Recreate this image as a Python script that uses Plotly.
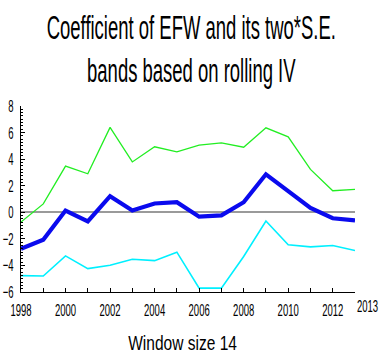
import json
import plotly.graph_objects as go

years = list(range(1998, 2014))
coef_efw = [-2.75, -2.07, 0.13, -0.68, 1.21, 0.13, 0.66, 0.76, -0.33, -0.23,
            0.76, 2.86, 1.59, 0.33, -0.45, -0.61]
upper_band = [-0.73, 0.63, 3.48, 2.90, 6.39, 3.79, 4.93, 4.55, 5.05, 5.23,
              4.90, 6.36, 5.68, 3.23, 1.62, 1.72]
lower_band = [-4.77, -4.80, -3.28, -4.24, -3.99, -3.54, -3.64, -3.00, -5.71, -5.71,
              -3.33, -0.66, -2.45, -2.60, -2.50, -2.88]

y_ticks = [-6, -4, -2, 0, 2, 4, 6, 8]
x_tick_labels = [str(y) if y % 2 == 0 and y != 2013 else "" for y in years]

FONT = "Liberation Sans, Arial, sans-serif"

fig = go.Figure()
fig.add_trace(go.Scatter(x=years, y=upper_band, mode="lines",
                         line=dict(color="#22ee22", width=1.3), showlegend=False))
fig.add_trace(go.Scatter(x=years, y=lower_band, mode="lines",
                         line=dict(color="#00f0ff", width=1.6), showlegend=False))
fig.add_trace(go.Scatter(x=years, y=coef_efw, mode="lines",
                         line=dict(color="#0a0aee", width=4.2), showlegend=False))

W, H = 380, 356
L, R, T, B = 21, 25, 106, 64
ph = H - T - B


def py(pix):
    """Paper y coordinate for a pixel row measured from the top."""
    return 1 + (T - pix) / ph


fig.update_layout(
    width=W, height=H,
    margin=dict(l=L, r=R, t=T, b=B, pad=0, autoexpand=False),
    paper_bgcolor="white", plot_bgcolor="white",
    font=dict(family=FONT, color="black"),
    xaxis=dict(range=[1998, 2013], tickvals=years, ticktext=x_tick_labels,
               ticks="inside", ticklen=4, tickcolor="black", tickwidth=1,
               showline=True, linecolor="black", linewidth=1.2,
               showgrid=False, zeroline=False, automargin=False,
               tickfont=dict(size=17, family=FONT), ticklabelstandoff=3),
    yaxis=dict(range=[-6, 8], tickvals=y_ticks, ticks="inside", ticklen=4,
               tickcolor="black", tickwidth=1,
               minor=dict(dtick=0.25, ticks="inside", ticklen=2,
                          tickcolor="black", tickwidth=1),
               showline=True, linecolor="black", linewidth=1.2,
               showgrid=False, zeroline=True, zerolinecolor="#9a9a9a",
               zerolinewidth=2, automargin=False,
               tickfont=dict(size=17, family=FONT), ticklabelstandoff=3),
    annotations=[
        dict(text="Coefficient of EFW and its two*S.E.<br>bands based on rolling IV",
             xref="paper", yref="paper", x=0.51, y=py(7), xanchor="center",
             yanchor="top", showarrow=False, font=dict(size=33, family=FONT)),
        dict(text="Window size 14", xref="paper", yref="paper", x=0.485,
             y=py(342), xanchor="center", yanchor="middle", showarrow=False,
             font=dict(size=21, family=FONT)),
        dict(text="2013", xref="x", yref="paper", x=2013, y=py(306),
             xanchor="left", yanchor="middle", xshift=0, showarrow=False,
             font=dict(size=17, family=FONT)),
    ],
)

# Condensed lettering: squeeze every text horizontally about its anchor.
ann_squeeze = json.dumps([[0.56, "c"], [0.74, "c"], [0.56, "l"]])
post_js = """
(function(){
  var gd = document.getElementById('{plot_id}');
  var annSq = %s;
  function sq(t, s, mode){
    if (!t.hasAttribute('data-t0')) t.setAttribute('data-t0', t.getAttribute('transform') || '');
    var t0 = t.getAttribute('data-t0');
    t.setAttribute('transform', t0);
    var b = t.getBBox();
    var cx = mode === 'l' ? b.x : (mode === 'r' ? b.x + b.width : b.x + b.width / 2);
    t.setAttribute('transform', t0 + ' translate(' + cx + ',0) scale(' + s + ',1) translate(' + (-cx) + ',0)');
  }
  function run(){
    gd.querySelectorAll('g.xtick text').forEach(function(t){ sq(t, 0.56, 'c'); });
    gd.querySelectorAll('g.ytick text').forEach(function(t){ sq(t, 0.56, 'r'); });
    gd.querySelectorAll('g.annotation').forEach(function(g){
      var i = +g.getAttribute('data-index');
      var t = g.querySelector('text.annotation-text');
      if (t && annSq[i]) sq(t, annSq[i][0], annSq[i][1]);
    });
  }
  run();
  gd.on('plotly_afterplot', run);
})();
""" % ann_squeeze

fig.write_html("out.html", post_script=post_js)
